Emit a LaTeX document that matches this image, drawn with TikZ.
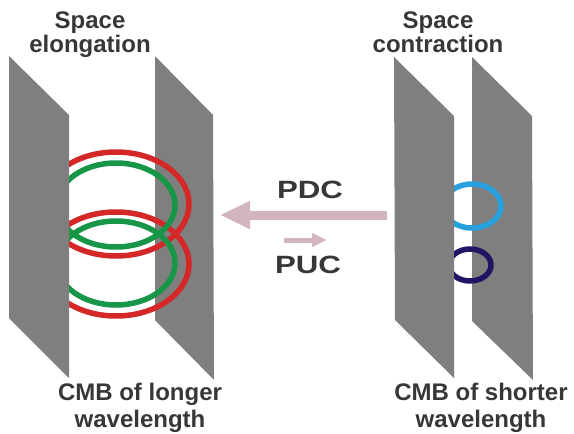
\documentclass[tikz,border=0pt]{standalone}
\usepackage{fontspec}
\setmainfont{Liberation Sans}
\newfontfamily\widefont[FakeStretch=1.25]{Liberation Sans}
\usetikzlibrary{arrows.meta}
\definecolor{plane}{RGB}{128,127,127}
\definecolor{ringred}{RGB}{212,40,40}
\definecolor{ringgreen}{RGB}{22,150,70}
\definecolor{ringblue}{RGB}{40,160,222}
\definecolor{ringnavy}{RGB}{32,20,100}
\definecolor{arrowpink}{RGB}{210,180,190}
\definecolor{txt}{RGB}{55,55,55}
\begin{document}
\begin{tikzpicture}[x=1pt,y=-1pt,line join=round,
	lbl/.style={font=\bfseries\fontsize{24}{27}\selectfont,text=txt,align=center,inner sep=0pt,anchor=base},
	toplbl/.style={lbl,font=\bfseries\fontsize{24}{21}\selectfont},
	wide/.style={font=\widefont\bfseries\fontsize{25}{27}\selectfont},
	ring/.style={line width=5.5pt}]
	\useasboundingbox (0,0) rectangle (574,434);
	% planes behind the rings
	\fill[plane] (155,56)--(213,115)--(214,380)--(155,320)--cycle
	(472,57)--(532,116)--(533,380)--(472,321)--cycle;
	% rings
	\draw[ring,ringred] (116,204) ellipse [x radius=73,y radius=52]
	(116,264) ellipse [x radius=73,y radius=52];
	\draw[ring,ringgreen] (116,205) ellipse [x radius=59,y radius=42]
	(116,263) ellipse [x radius=59,y radius=42];
	\draw[ring,ringblue] (472,206) ellipse [x radius=29,y radius=22];
	\draw[ring,ringnavy] (470,265) ellipse [x radius=21,y radius=16];
	% planes in front
	\fill[plane] (9,56)--(69,115)--(69,378)--(9,318)--cycle
	(394,57)--(454,116)--(454,378)--(395,320)--cycle;
	% labels
	\node[toplbl] (elong) at (90,52) {Space\\elongation};
	\node[toplbl] (contr) at (438,52) {Space\\contraction};
	\node[lbl] (longer) at (140,427) {CMB of longer\\wavelength};
	\node[lbl] (shorter) at (481,427) {CMB of shorter\\wavelength};
	\node[lbl,wide] (pdc) at (310,198) {PDC};
	\node[lbl,wide] (puc) at (308,273) {PUC};
	% arrows
	\coordinate (pdcA) at (387,215);
	\coordinate (pdcB) at (220,215);
	\coordinate (pucA) at (284,240);
	\coordinate (pucB) at (327,240);
	\draw[arrowpink,line width=9pt,-{Triangle[length=30pt,width=26pt]}] (pdcA)--(pdcB);
	\draw[arrowpink,line width=5pt,-{Triangle[length=15pt,width=13pt]}] (pucA)--(pucB);
\end{tikzpicture}
\end{document}
